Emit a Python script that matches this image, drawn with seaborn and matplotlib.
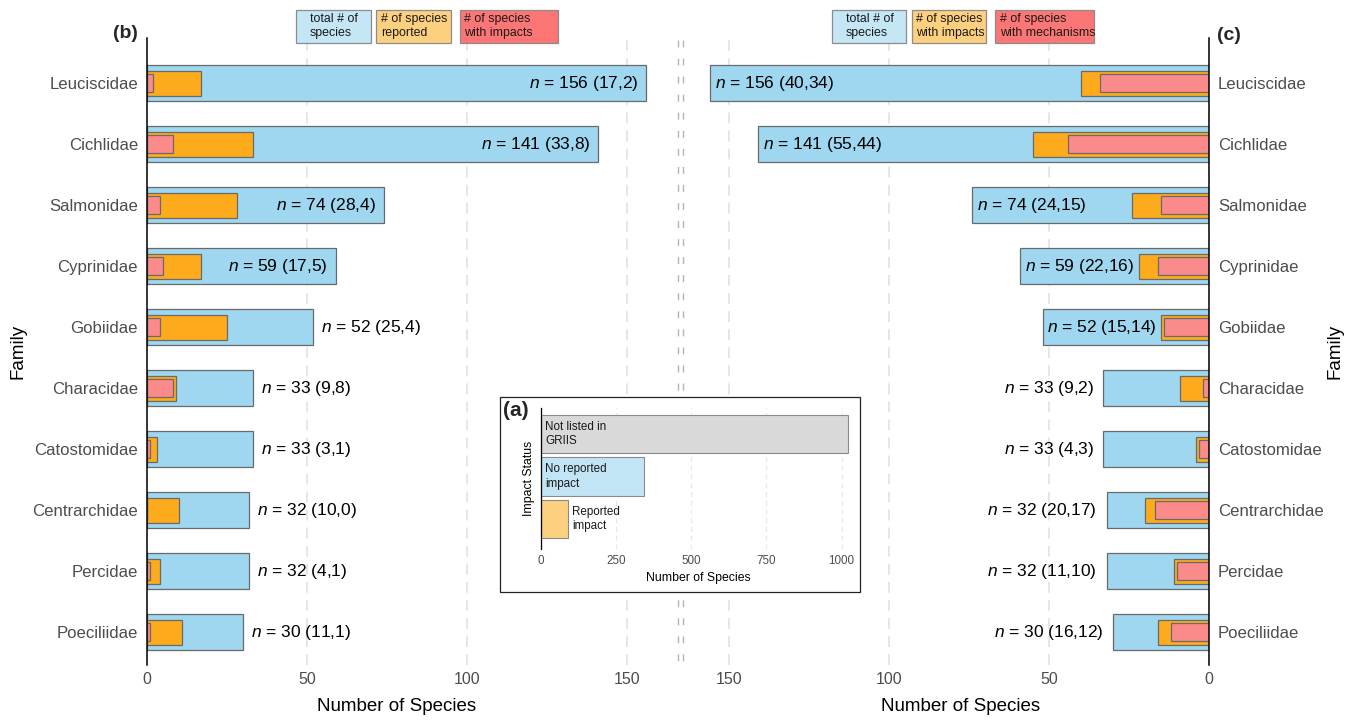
import matplotlib
matplotlib.use("Agg")
import matplotlib.pyplot as plt
import pandas as pd
import seaborn as sns
from matplotlib.patches import Rectangle
from matplotlib.lines import Line2D

# ---- data -------------------------------------------------------------
families = ["Leuciscidae", "Cichlidae", "Salmonidae", "Cyprinidae", "Gobiidae",
            "Characidae", "Catostomidae", "Centrarchidae", "Percidae", "Poeciliidae"]
total_species = [156, 141, 74, 59, 52, 33, 33, 32, 32, 30]
# panel (b)
species_reported = [17, 33, 28, 17, 25, 9, 3, 10, 4, 11]
species_impacts_b = [2, 8, 4, 5, 4, 8, 1, 0, 1, 1]
# panel (c)
species_impacts_c = [40, 55, 24, 22, 15, 9, 4, 20, 11, 16]
species_mechanisms = [34, 44, 15, 16, 14, 2, 3, 17, 10, 12]
# panel (a)
status_names = ["Not listed in GRIIS", "No reported impact", "Reported impact"]
status_text = ["Not listed in\nGRIIS", "No reported\nimpact", "Reported\nimpact"]
status_counts = [1022, 344, 92]

legend_b = ["total # of\nspecies", "# of species\nreported", "# of species\nwith impacts"]
legend_c = ["total # of\nspecies", "# of species\nwith impacts", "# of species\nwith mechanisms"]

# ---- style ------------------------------------------------------------
sns.set_theme(style="white")
plt.rcParams["font.family"] = ["Liberation Sans", "DejaVu Sans"]
plt.rcParams["mathtext.fontset"] = "custom"
plt.rcParams["mathtext.rm"] = "Liberation Sans"
plt.rcParams["mathtext.it"] = "Liberation Sans:italic"

BLUE, ORANGE, PINK = "#9ed7ef", "#fdab1c", "#fb8a8a"
EDGE = "#6a6a6a"
GRID = "#e4e4e4"
TICK_GREY = "#4d4d4d"

W, H = 1351, 720
fig = plt.figure(figsize=(W / 100, H / 100), dpi=100)


def fx(px):
    return px / W


def fy(py):
    return 1 - py / H


df_b = pd.DataFrame({"family": families, "total": total_species,
                     "mid": species_reported, "top": species_impacts_b})
df_c = pd.DataFrame({"family": families, "total": total_species,
                     "mid": species_impacts_c, "top": species_mechanisms})

ax_b = fig.add_axes([fx(147), fy(665), fx(528), 627 / H])
ax_c = fig.add_axes([fx(681), fy(665), fx(528), 627 / H])


def draw_panel(ax, df):
    for col, width, color in [("total", 0.6, BLUE), ("mid", 0.41, ORANGE), ("top", 0.29, PINK)]:
        sns.barplot(data=df, y="family", x=col, order=families, orient="h",
                    width=width, color=color, saturation=1, edgecolor=EDGE,
                    linewidth=0.9, errorbar=None, ax=ax)
    ax.set_ylim(9.54, -0.74)
    ax.set_xticks([0, 50, 100, 150])
    ax.set_axisbelow(True)
    ax.grid(axis="x", color=GRID, linestyle=(0, (6, 4)), linewidth=1.3)
    ax.grid(axis="y", visible=False)
    ax.tick_params(axis="both", length=0, labelcolor=TICK_GREY)
    ax.tick_params(axis="x", labelsize=11.5, pad=5)
    ax.tick_params(axis="y", labelsize=12.1, pad=6.5)
    ax.set_xlabel("Number of Species", fontsize=13.5, color="black")
    ax.set_ylabel("Family", fontsize=13.5, color="black")
    for s in ax.spines.values():
        s.set_visible(False)


# panel (b)
draw_panel(ax_b, df_b)
ax_b.set_xlim(0, 165)
ax_b.spines["left"].set_visible(True)
ax_b.spines["left"].set_color("black")
ax_b.spines["left"].set_linewidth(1.1)
ax_b.xaxis.set_label_coords((397 - 147) / 528, -0.052)
ax_b.yaxis.set_label_coords((26 - 147) / 528, 0.5)
for i, (t, a, b) in enumerate(zip(total_species, species_reported, species_impacts_b)):
    label = f"$n$ = {t} ({a},{b})"
    if t >= 55:
        ax_b.text(t - 2.5, i, label, ha="right", va="center", fontsize=12.5, color="black")
    else:
        ax_b.text(t + 2.5, i, label, ha="left", va="center", fontsize=12.5, color="black")

# panel (c)
draw_panel(ax_c, df_c)
ax_c.set_xlim(165, 0)
ax_c.yaxis.tick_right()
ax_c.yaxis.set_label_position("right")
ax_c.spines["right"].set_visible(True)
ax_c.spines["right"].set_color("black")
ax_c.spines["right"].set_linewidth(1.1)
ax_c.xaxis.set_label_coords((961 - 681) / 528, -0.052)
ax_c.yaxis.set_label_coords((1327 - 681) / 528, 0.5)
ax_c.yaxis.label.set_rotation(90)
for i, (t, a, b) in enumerate(zip(total_species, species_impacts_c, species_mechanisms)):
    label = f"$n$ = {t} ({a},{b})"
    if t >= 45:
        ax_c.text(t - 1.5, i, label, ha="left", va="center", fontsize=12.5, color="black")
    else:
        ax_c.text(t + 3, i, label, ha="right", va="center", fontsize=12.5, color="black")

# axis break marks between the two panels
for xpx in (677.5, 682.5):
    fig.add_artist(Line2D([fx(xpx), fx(xpx)], [fy(40), fy(668)], color="#b4b4b4",
                          linewidth=1.0, linestyle=(0, (5, 8)), zorder=0.5))

# panel titles
fig.text(fx(125), fy(34), "(b)", ha="center", va="center", fontsize=14, fontweight="bold")
fig.text(fx(1229), fy(35), "(c)", ha="center", va="center", fontsize=14, fontweight="bold")

# key boxes above each panel
key_fill = ["#c4e6f5", "#fdd07f", "#fd7676"]


def draw_key(boxes, texts):
    for (x0, x1, tx), txt, col in zip(boxes, texts, key_fill):
        fig.add_artist(Rectangle((fx(x0), fy(42.5)), fx(x1 - x0), (42.5 - 9.5) / H,
                                 facecolor=col, edgecolor="#8c8c8c", linewidth=0.9,
                                 transform=fig.transFigure, zorder=2))
        fig.text(fx(tx), fy(26), txt, ha="left", va="center", fontsize=8.9,
                 color="#1a1a1a", linespacing=1.15, zorder=3)


draw_key([(296, 371, 310), (376, 451, 381), (460, 558, 464)], legend_b)
draw_key([(832, 906, 846), (912, 986, 916), (995, 1094, 1000)], legend_c)

# inset panel (a)
fig.add_artist(Rectangle((fx(500), fy(592)), fx(360), 195 / H, facecolor="white",
                         edgecolor="#222222", linewidth=0.9,
                         transform=fig.transFigure, zorder=1))
ax_a = fig.add_axes([fx(540.7), fy(549), fx(314.5), 141 / H])
ax_a.set_zorder(3)
df_a = pd.DataFrame({"status": status_names, "count": status_counts})
sns.barplot(data=df_a, y="status", x="count", hue="status", order=status_names,
            hue_order=status_names, palette=["#d9d9d9", "#c2e5f5", "#fdd07f"],
            orient="h", width=0.9, saturation=1, edgecolor="#8a8a8a", linewidth=0.8,
            errorbar=None, legend=False, ax=ax_a)
ax_a.set_xlim(0, 1045)
ax_a.set_ylim(2.706, -0.612)
ax_a.set_xticks([0, 250, 500, 750, 1000])
ax_a.set_yticks([])
ax_a.set_axisbelow(True)
ax_a.grid(axis="x", color="#e8e8e8", linestyle=(0, (4, 3)), linewidth=0.9)
ax_a.grid(axis="y", visible=False)
for s in ax_a.spines.values():
    s.set_visible(False)
ax_a.spines["left"].set_visible(True)
ax_a.spines["left"].set_color("black")
ax_a.spines["left"].set_linewidth(0.9)
ax_a.tick_params(axis="x", length=0, labelsize=8.4, labelcolor=TICK_GREY, pad=4)
ax_a.set_xlabel("Number of Species", fontsize=8.8, color="black", labelpad=4)
ax_a.set_ylabel("Impact Status", fontsize=8.8, color="black", labelpad=4)
for i, (txt, v) in enumerate(zip(status_text, status_counts)):
    x = 14 if v > 200 else v + 13
    ax_a.text(x, i, txt, ha="left", va="center", fontsize=8.4, color="#1a1a1a",
              linespacing=1.25)
fig.text(fx(516), fy(411), "(a)", ha="center", va="center", fontsize=15,
         fontweight="bold", zorder=4)

fig.savefig("out.png", dpi=100)
